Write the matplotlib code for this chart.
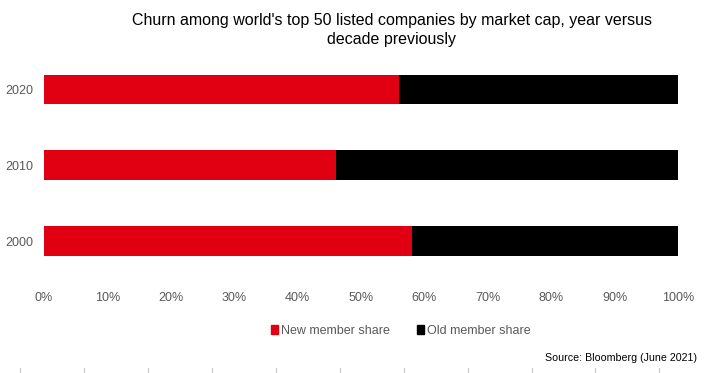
import matplotlib

matplotlib.use("Agg")
import matplotlib.pyplot as plt
from matplotlib.patches import Patch
from matplotlib.lines import Line2D

years = ["2000", "2010", "2020"]
new_share = [58, 46, 56]
old_share = [42, 54, 44]
x_ticks = [0, 10, 20, 30, 40, 50, 60, 70, 80, 90, 100]

RED = "#e00012"
BLACK = "#000000"
GREY = "#595959"

plt.rcParams["font.family"] = ["Liberation Sans", "DejaVu Sans"]

fig = plt.figure(figsize=(7.04, 3.73), dpi=100)
ax = fig.add_axes([0.0625, 0.252, 0.9005, 0.610])

pos = range(len(years))
ax.barh(pos, new_share, height=0.39, color=RED, label="New member share")
ax.barh(pos, old_share, left=new_share, height=0.39, color=BLACK,
        label="Old member share")

ax.set_xlim(0, 100)
ax.set_ylim(-0.5, 2.5)
ax.set_xticks(x_ticks)
ax.set_xticklabels([f"{t}%" for t in x_ticks])
ax.set_yticks(list(pos))
ax.set_yticklabels(years)
ax.tick_params(axis="both", length=0, labelsize=9, colors=GREY)
ax.tick_params(axis="x", pad=9)
ax.tick_params(axis="y", pad=7.5)
for s in ax.spines.values():
    s.set_visible(False)

fig.text(392 / 704, 0.965,
         "Churn among world's top 50 listed companies by market cap, year versus\ndecade previously",
         ha="center", va="top", fontsize=11.5, color="#000000", linespacing=1.3)

handles = [Patch(color=RED, label="New member share"),
           Patch(color=BLACK, label="Old member share")]
fig.legend(handles=handles, loc="center", bbox_to_anchor=(401 / 704, 1 - 331 / 373),
           ncol=2, frameon=False, fontsize=9, handlelength=0.55, handleheight=0.7,
           handletextpad=0.25, columnspacing=2.2, labelcolor=GREY)

fig.text(0.99, 1 - 358 / 373, "Source: Bloomberg (June 2021)", ha="right",
         va="center", fontsize=7.7, color="#000000")

# faint tick marks along the bottom edge
for xp in [20, 84, 148, 212, 276, 340, 404, 468, 532, 595, 659]:
    fig.add_artist(Line2D([xp / 704, xp / 704], [0, 5 / 373], color="#c8c8c8", lw=0.8))

fig.savefig("out.png", dpi=100)
